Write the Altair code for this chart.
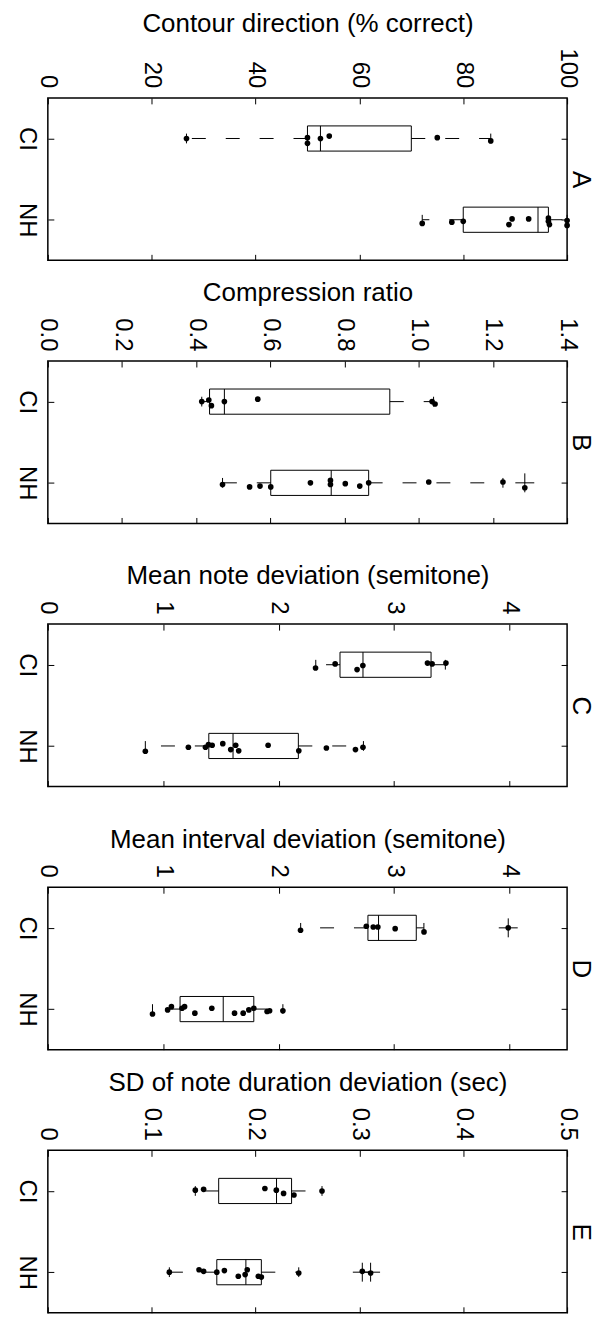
import altair as alt
import pandas as pd

FONT = "Liberation Sans"

# ---------------- data ----------------
GROUPS = ["CI", "NH"]
LETTERS = ["A", "B", "C", "D", "E"]
TITLES = [
    "Contour direction (% correct)",
    "Compression ratio",
    "Mean note deviation (semitone)",
    "Mean interval deviation (semitone)",
    "SD of note duration deviation (sec)",
]
XMAX = [100, 1.4, 4.5, 4.5, 0.5]
TICKS = [
    [0, 20, 40, 60, 80, 100],
    [0, 0.2, 0.4, 0.6, 0.8, 1.0, 1.2, 1.4],
    [0, 1, 2, 3, 4],
    [0, 1, 2, 3, 4],
    [0, 0.1, 0.2, 0.3, 0.4, 0.5],
]
TICK_FORMAT = [
    "format(datum.value, '.0f')",
    "format(datum.value, '.1f')",
    "format(datum.value, '.0f')",
    "format(datum.value, '.0f')",
    "datum.value == 0 ? '0' : format(datum.value, '.1f')",
]

# box statistics per panel: [CI, NH]
Q1 = {"A": [50.0, 80.0], "B": [0.436, 0.601], "C": [2.532, 1.395], "D": [2.774, 1.146], "E": [0.1645, 0.1627]}
MED = {"A": [52.5, 94.4], "B": [0.476, 0.764], "C": [2.731, 1.605], "D": [2.866, 1.52], "E": [0.2202, 0.1907]}
Q3 = {"A": [70.0, 96.4], "B": [0.922, 0.865], "C": [3.321, 2.171], "D": [3.193, 1.785], "E": [0.2347, 0.2056]}
WLO = {"A": [26.7, 72.1], "B": [0.415, 0.471], "C": [2.322, 0.845], "D": [2.191, 0.907], "E": [0.142, 0.117]}
WHI = {"A": [85.3, 100.0], "B": [1.04, 1.227], "C": [3.445, 2.735], "D": [3.259, 2.037], "E": [0.264, 0.2416]}

# outliers ('+' markers): (group, value)
OUT_GROUP = {"A": [], "B": ["NH"], "C": [], "D": ["CI"], "E": ["NH", "NH"]}
OUT_VALUE = {"A": [], "B": [1.286], "C": [], "D": [3.99], "E": [0.3028, 0.3108]}

# individual subjects (dots) and their small vertical jitter (category units)
A_CI = [26.7, 50.0, 50.0, 52.5, 54.2, 75.0, 85.3]
A_CI_J = [0, -0.01, 0.06, 0.0, -0.03, -0.01, 0.03]
A_NH = [72.1, 77.8, 80.0, 88.8, 89.4, 92.6, 96.4, 96.4, 96.6, 100, 100]
A_NH_J = [0.045, 0.03, 0.02, 0.06, -0.01, -0.01, -0.02, 0.02, 0.06, 0.01, 0.07]

B_CI = [0.415, 0.434, 0.441, 0.476, 0.566, 1.036, 1.044]
B_CI_J = [0, -0.02, 0.05, 0, -0.03, 0, 0.03]
B_NH = [0.471, 0.544, 0.572, 0.601, 0.708, 0.762, 0.762, 0.802, 0.841, 0.865, 1.027, 1.227, 1.286]
B_NH_J = [0.02, 0.05, 0.04, 0.05, 0, -0.03, 0.02, 0.01, 0.04, 0, -0.01, -0.01, 0.06]

C_CI = [2.32, 2.49, 2.68, 2.73, 3.29, 3.33, 3.45]
C_CI_J = [0.04, -0.01, 0.06, 0.01, -0.02, -0.01, -0.02]
C_NH = [0.845, 1.218, 1.366, 1.392, 1.424, 1.516, 1.585, 1.628, 1.654, 1.909, 2.175, 2.414, 2.666, 2.731]
C_NH_J = [0.065, 0.016, 0.016, -0.016, -0.008, -0.028, 0.045, -0.008, 0.06, -0.008, 0.06, 0.025, 0.045, 0.016]

D_CI = [2.19, 2.76, 2.82, 2.86, 3.01, 3.26, 3.99]
D_CI_J = [0.03, -0.02, -0.01, -0.01, 0.01, 0.05, 0]
D_NH = [0.907, 1.038, 1.071, 1.163, 1.185, 1.274, 1.421, 1.618, 1.693, 1.742, 1.785, 1.90, 1.922, 2.037]
D_NH_J = [0.06, 0.01, -0.03, -0.01, -0.03, 0.05, -0.01, 0.05, 0.05, 0.01, -0.01, 0.03, 0.02, 0.02]

E_CI = [0.142, 0.150, 0.209, 0.220, 0.227, 0.237, 0.264]
E_CI_J = [-0.01, -0.02, -0.03, -0.01, 0.03, 0.05, 0]
E_NH = [0.117, 0.1456, 0.150, 0.1627, 0.170, 0.1834, 0.190, 0.192, 0.2027, 0.2056, 0.2416, 0.3028, 0.3108]
E_NH_J = [0, -0.03, -0.01, 0, -0.02, 0.05, 0.03, -0.03, 0.05, 0.06, 0.01, -0.01, 0.01]

POINTS = {
    "A": (A_CI, A_CI_J, A_NH, A_NH_J),
    "B": (B_CI, B_CI_J, B_NH, B_NH_J),
    "C": (C_CI, C_CI_J, C_NH, C_NH_J),
    "D": (D_CI, D_CI_J, D_NH, D_NH_J),
    "E": (E_CI, E_CI_J, E_NH, E_NH_J),
}

GIDX = {"CI": 1, "NH": 2}

COMMON_AXIS = dict(
    domain=False, grid=False, tickColor="black", tickWidth=1,
    labelColor="black", titleColor="black", labelFont=FONT, titleFont=FONT,
    titleFontWeight="normal", labelFlush=False, labelOverlap=False,
)


def panel(i):
    L = LETTERS[i]
    box = pd.DataFrame({
        "g": [1, 2], "q1": Q1[L], "med": MED[L], "q3": Q3[L],
        "wlo": WLO[L], "whi": WHI[L],
    })
    ci, cij, nh, nhj = POINTS[L]
    pts = pd.DataFrame({
        "v": ci + nh,
        "g": [1] * len(ci) + [2] * len(nh),
        "j": cij + nhj,
    })

    xs = alt.Scale(domain=[0, XMAX[i]], nice=False, zero=False)
    ys = alt.Scale(domain=[0.5, 2.5], reverse=True, nice=False, zero=False)

    top_axis = alt.Axis(
        orient="top", values=TICKS[i], labelExpr=TICK_FORMAT[i],
        labelAngle=90, labelAlign="right", labelBaseline="middle",
        labelPadding=10, labelFontSize=24, tickSize=6, offset=-6,
        title=TITLES[i], titleFontSize=26, titlePadding=12, **COMMON_AXIS)
    bottom_axis = alt.Axis(
        orient="bottom", values=TICKS[i], labels=False, tickSize=6,
        offset=-6, title=None, **COMMON_AXIS)
    left_axis = alt.Axis(
        orient="left", values=[1, 2],
        labelExpr="datum.value == 1 ? 'CI' : 'NH'",
        labelAngle=90, labelAlign="center", labelBaseline="top",
        labelPadding=9, labelFontSize=24, tickSize=6, offset=-6,
        title=None, **COMMON_AXIS)
    right_axis = alt.Axis(
        orient="right", values=[1, 2], labels=False, tickSize=6, offset=-6,
        title=L, titleFontSize=26, titleAngle=90, titlePadding=0,
        **COMMON_AXIS)

    b = alt.Chart(box).transform_calculate(
        ylo="datum.g - 0.155", yhi="datum.g + 0.155",
        clo="datum.g - 0.06", chi="datum.g + 0.06",
    )

    rect = b.mark_rect(fill="white", stroke="black", strokeWidth=1).encode(
        x=alt.X("q1:Q", scale=xs, axis=top_axis),
        x2="q3:Q",
        y=alt.Y("ylo:Q", scale=ys, axis=left_axis),
        y2="yhi:Q",
    )
    med = b.mark_rule(color="black", strokeWidth=1).encode(
        x=alt.X("med:Q", scale=xs, axis=bottom_axis),
        y=alt.Y("ylo:Q", scale=ys, axis=right_axis),
        y2="yhi:Q",
    )
    wlo = b.mark_rule(color="black", strokeWidth=1, strokeDash=[14, 20]).encode(
        x=alt.X("q1:Q", scale=xs, axis=None), x2="wlo:Q",
        y=alt.Y("g:Q", scale=ys, axis=None),
    )
    whi = b.mark_rule(color="black", strokeWidth=1, strokeDash=[14, 20]).encode(
        x=alt.X("q3:Q", scale=xs, axis=None), x2="whi:Q",
        y=alt.Y("g:Q", scale=ys, axis=None),
    )
    caplo = b.mark_rule(color="black", strokeWidth=1).encode(
        x=alt.X("wlo:Q", scale=xs, axis=None),
        y=alt.Y("clo:Q", scale=ys, axis=None), y2="chi:Q",
    )
    caphi = b.mark_rule(color="black", strokeWidth=1).encode(
        x=alt.X("whi:Q", scale=xs, axis=None),
        y=alt.Y("clo:Q", scale=ys, axis=None), y2="chi:Q",
    )
    dots = alt.Chart(pts).transform_calculate(yj="datum.g + datum.j").mark_circle(
        size=32, color="black", opacity=1
    ).encode(
        x=alt.X("v:Q", scale=xs, axis=None),
        y=alt.Y("yj:Q", scale=ys, axis=None),
    )
    layers = [rect, med, wlo, whi, caplo, caphi]
    if OUT_VALUE[L]:
        out = pd.DataFrame({"v": OUT_VALUE[L], "g": [GIDX[g] for g in OUT_GROUP[L]]})
        plus = alt.Chart(out).mark_point(
            shape="M-1,0L1,0M0,-1L0,1", size=361, filled=False,
            color="black", strokeWidth=1, opacity=1,
        ).encode(
            x=alt.X("v:Q", scale=xs, axis=None),
            y=alt.Y("g:Q", scale=ys, axis=None),
        )
        layers.append(plus)
    layers.append(dots)
    return alt.layer(*layers).resolve_axis(x="independent", y="independent").properties(
        width=521, height=163
    )


chart = alt.vconcat(*[panel(i) for i in range(5)], spacing=101, bounds="flush").properties(
    padding={"left": 14, "top": 7, "right": 0, "bottom": 0},
    background="white",
).configure_view(stroke="black", strokeWidth=1.5)

chart.save("out.html", embed_options={"renderer": "svg", "actions": False})
